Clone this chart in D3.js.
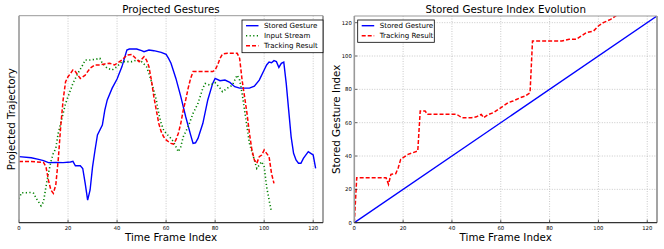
<!DOCTYPE html>
<html>
<head>
<meta charset="utf-8">
<script src="https://cdn.jsdelivr.net/npm/d3@7"></script>
<style>
  body { margin: 0; background: #fff; }
  svg { display: block; font-family: "DejaVu Sans", sans-serif; }
</style>
</head>
<body>
<svg id="fig" width="664" height="249"></svg>
<script>
// left panel: projected trajectories (arbitrary units, 0 = bottom, 100 = top)
var storedGesture = [[0,31.9],[5,31.4],[8,30.6],[10,30],[12,29],[15,29.1],[18,29],[21,29.3],[22,29.6],[23,27.5],[25,27.5],[26,26.2],[27,19],[28,10.9],[29,15.8],[30,27],[31,35],[32,42.4],[34,47.2],[35,54.4],[36,59.3],[38,65],[40,69.4],[42,75.4],[43,79.4],[44,83.4],[45,83.9],[48,83.9],[50,83.1],[51,82.6],[53,83.4],[55,83.1],[58,82.3],[60,81.3],[61,79.4],[62,77],[64,69.7],[66,60.9],[68,51.2],[70,42.4],[71,38.3],[72,38.6],[73,40.7],[75,48],[77,59.3],[79,67.3],[80,69.7],[82,68.6],[84,68.9],[86,67.8],[88,65.7],[90,65],[94,65],[96,66],[98,68.9],[100,73.8],[101,76.2],[102,77.6],[103,77.3],[104,78.3],[105,77.8],[106,75],[107,77],[108,77.6],[109,67.3],[110,54.4],[111,41.5],[112,33.5],[113,30.3],[114,28.7],[115,28.7],[116,31.1],[118,34.3],[119,33.5],[120,32.7],[121,26.2]];
var inputStream = [[0,11.6],[1,14.5],[3,14.5],[5,14.6],[6,14.2],[7,11.8],[9,8.2],[10,10.1],[11,17.4],[12,23.8],[13,29.5],[14,33.5],[15,35.9],[16,43.2],[17,48],[18,52.8],[19,57.6],[20,60.9],[21,64],[22,67.3],[24,72.1],[26,76.2],[27,78.6],[29,78.6],[31,78.9],[33,79.4],[34,77],[36,74.6],[38,73.8],[40,75.4],[42,77.8],[46,77.8],[48,78.6],[50,77.8],[52,75.4],[53,72.1],[54,68.1],[56,59.3],[57,52.8],[58,48],[59,44.8],[60,43.2],[62,40.7],[63,39.1],[65,34.3],[66,36.7],[67,41.5],[69,46.4],[71,52.8],[73,57.6],[75,65],[76,67.3],[78,66.4],[80,67.6],[82,65],[83,63.3],[85,65],[87,66.4],[88,68.9],[89,71.3],[90,68.9],[91,62.5],[92,54.4],[93,46.4],[94,38.3],[96,30.3],[97,26.2],[98,27.9],[99,29.5],[100,27],[101,17.4],[102,11],[103,5.3]];
var trackingProj = [[0,29.6],[5,29.6],[10,29.1],[11,27],[12,20.6],[13,15.8],[14,14.2],[15,18.2],[16,30.3],[17,46.4],[18,59.3],[19,68.1],[20,70.5],[21,72.1],[22,73.8],[23,73],[24,71.3],[25,69.7],[26,70.5],[27,71.3],[28,73],[29,74.6],[31,76.2],[33,76.2],[35,76.7],[37,77],[39,76.2],[40,77],[42,78.6],[44,81],[46,81.3],[48,78.9],[49,77.8],[50,78.9],[51,80.2],[52,78.6],[53,75.4],[54,68.9],[55,60.9],[56,54.4],[57,48],[58,44],[59,41.5],[60,40],[61,39.1],[62,38.3],[63,38],[64,40],[65,43.2],[66,48],[67,54.4],[68,59.3],[69,65],[70,69.7],[71,73],[79,73],[80,73.8],[81,76.2],[82,79.4],[83,81.5],[85,81.8],[89,81.8],[90,79.4],[91,68.9],[92,60.9],[93,52.8],[94,43.2],[95,35.1],[96,30.3],[97,28.7],[98,31.9],[99,32.7],[100,35.1],[101,33.5],[102,31.9],[103,23.8],[104,19]];

// right panel: stored gesture index vs time frame
var storedIndex = [[0,0],[124,124]];
var trackingIndex = [[0,0],[1,27],[13,27],[14,23],[15,29],[17,29.5],[18,33],[19,38],[20,39],[22,41],[24,42],[26,43],[27,67],[29,67],[30,65],[42,65],[44,63],[48,63],[50,63.5],[52,65],[53,63],[55,65],[57,66],[59,68],[61,70],[63,72],[65,73],[68,75],[70,76],[72,78],[73,109],[85,109],[88,110],[91,110],[93,112],[95,114],[98,115],[100,118],[102,120],[105,122],[108,125]];

var xTicks = [0, 20, 40, 60, 80, 100, 120];
var yTicksRight = [0, 20, 40, 60, 80, 100, 120];

var svg = d3.select('#fig');

function panel(opt) {
  var g = svg.append('g');
  var x = d3.scaleLinear().domain(opt.xDomain).range([opt.left, opt.right]);
  var y = d3.scaleLinear().domain(opt.yDomain).range([opt.bottom, opt.top]);

  var clipId = 'clip' + opt.id;
  svg.append('clipPath').attr('id', clipId).append('rect')
    .attr('x', opt.left).attr('y', opt.top)
    .attr('width', opt.right - opt.left).attr('height', opt.bottom - opt.top);

  // grid
  g.selectAll('line.gx').data(xTicks.filter(d => d > 0)).join('line')
    .attr('x1', d => x(d)).attr('x2', d => x(d))
    .attr('y1', opt.top).attr('y2', opt.bottom)
    .attr('stroke', '#bbb').attr('stroke-width', 0.8).attr('stroke-dasharray', '1,1.5');
  if (opt.yTicks) {
    g.selectAll('line.gy').data(opt.yTicks.filter(d => d > 0)).join('line')
      .attr('y1', d => y(d)).attr('y2', d => y(d))
      .attr('x1', opt.left).attr('x2', opt.right)
      .attr('stroke', '#bbb').attr('stroke-width', 0.8).attr('stroke-dasharray', '1,1.5');
  }

  var line = d3.line().x(d => x(d[0])).y(d => y(d[1]));
  var lg = g.append('g').attr('clip-path', 'url(#' + clipId + ')');
  opt.series.forEach(s => {
    lg.append('path').attr('d', line(s.data))
      .attr('fill', 'none').attr('stroke', s.color).attr('stroke-width', s.width)
      .attr('stroke-dasharray', s.dash || null)
      .attr('stroke-linecap', s.cap || 'butt');
  });

  // ticks
  g.selectAll('line.tx').data(xTicks).join('line')
    .attr('x1', d => x(d)).attr('x2', d => x(d))
    .attr('y1', opt.bottom).attr('y2', opt.bottom - 3)
    .attr('stroke', '#000').attr('stroke-width', 0.6);
  g.selectAll('text.tx').data(xTicks).join('text')
    .attr('x', d => x(d)).attr('y', opt.bottom + 7.5)
    .attr('text-anchor', 'middle').attr('font-size', 5.3).text(d => d);
  if (opt.yTicks) {
    g.selectAll('line.ty').data(opt.yTicks).join('line')
      .attr('y1', d => y(d)).attr('y2', d => y(d))
      .attr('x1', opt.left).attr('x2', opt.left + 3)
      .attr('stroke', '#000').attr('stroke-width', 0.6);
    g.selectAll('text.ty').data(opt.yTicks).join('text')
      .attr('x', opt.left - 2.5).attr('y', d => y(d) + 2)
      .attr('text-anchor', 'end').attr('font-size', 5.3).text(d => d);
  }

  // spines
  g.append('line').attr('x1', opt.left).attr('x2', opt.right).attr('y1', opt.top).attr('y2', opt.top)
    .attr('stroke', '#999').attr('stroke-width', 1);
  g.append('line').attr('x1', opt.left).attr('x2', opt.left).attr('y1', opt.top).attr('y2', opt.bottom)
    .attr('stroke', '#999').attr('stroke-width', 1.6);
  g.append('line').attr('x1', opt.right).attr('x2', opt.right).attr('y1', opt.top).attr('y2', opt.bottom)
    .attr('stroke', '#999').attr('stroke-width', 1.8);
  g.append('line').attr('x1', opt.left).attr('x2', opt.right).attr('y1', opt.bottom).attr('y2', opt.bottom)
    .attr('stroke', '#333').attr('stroke-width', 1.2);

  // labels
  g.append('text').attr('x', (opt.left + opt.right) / 2).attr('y', 13)
    .attr('text-anchor', 'middle').attr('font-size', 10.3).text(opt.title);
  g.append('text').attr('x', (opt.left + opt.right) / 2).attr('y', 241)
    .attr('text-anchor', 'middle').attr('font-size', 10.3).text('Time Frame Index');
  g.append('text')
    .attr('transform', 'translate(' + opt.yLabelX + ',' + (opt.top + opt.bottom) / 2 + ') rotate(-90)')
    .attr('text-anchor', 'middle').attr('font-size', 10.3).text(opt.yLabel);

  // legend
  var L = opt.legend;
  var lgd = g.append('g');
  lgd.append('rect').attr('x', L.x).attr('y', L.y).attr('width', L.w).attr('height', L.h)
    .attr('fill', '#fff').attr('stroke', '#000').attr('stroke-width', 0.8);
  opt.series.forEach((s, i) => {
    var yy = L.y + 5.7 + i * 10;
    lgd.append('line').attr('x1', L.x + 4).attr('x2', L.x + 16.5).attr('y1', yy).attr('y2', yy)
      .attr('stroke', s.color).attr('stroke-width', s.width).attr('stroke-dasharray', s.dash || null)
      .attr('stroke-linecap', s.cap || 'butt');
    lgd.append('text').attr('x', L.x + 22).attr('y', yy + 2.5).attr('font-size', 7.1).text(s.name);
  });
}

var blue = {color: '#0000ff', width: 1.4};
var green = {color: '#008000', width: 1.6, dash: '1.2,2.4'};
var red = {color: '#ff0000', width: 1.5, dash: '4,2'};

panel({
  id: 'L', left: 19, right: 323, top: 15.7, bottom: 222.7,
  xDomain: [0, 124], yDomain: [0, 100],
  title: 'Projected Gestures', yLabel: 'Projected Trajectory', yLabelX: 14.5,
  legend: {x: 242, y: 20, w: 81, h: 32.7},
  series: [
    Object.assign({name: 'Stored Gesture', data: storedGesture}, blue),
    Object.assign({name: 'Input Stream', data: inputStream}, green),
    Object.assign({name: 'Tracking Result', data: trackingProj}, red)
  ]
});

panel({
  id: 'R', left: 354.3, right: 657, top: 16, bottom: 222.7,
  xDomain: [0, 124], yDomain: [0, 124], yTicks: yTicksRight,
  title: 'Stored Gesture Index Evolution', yLabel: 'Stored Gesture Index', yLabelX: 340,
  legend: {x: 357.7, y: 20, w: 76.6, h: 22.3},
  series: [
    Object.assign({name: 'Stored Gesture', data: storedIndex}, blue),
    Object.assign({name: 'Tracking Result', data: trackingIndex}, red)
  ]
});
</script>
</body>
</html>
